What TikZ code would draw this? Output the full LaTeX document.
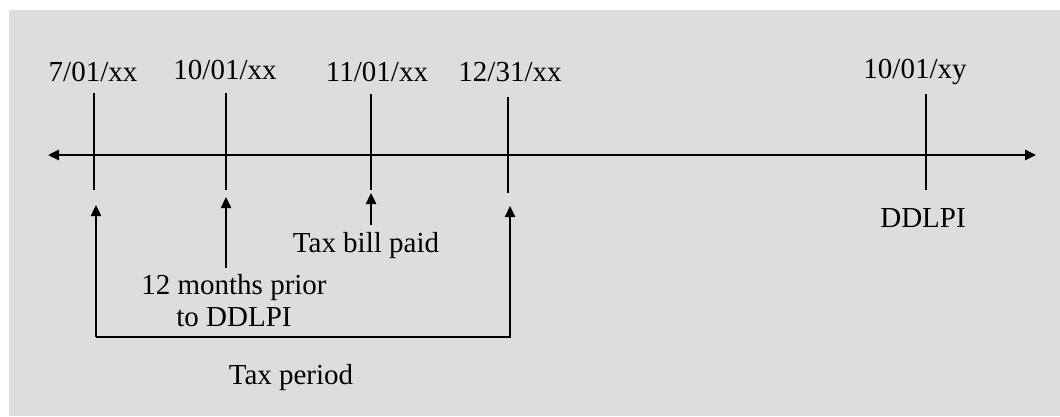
\documentclass[tikz,border=0pt]{standalone}
\usepackage{fontspec}
\setmainfont{Liberation Serif}
\usetikzlibrary{arrows.meta}
\definecolor{bg}{HTML}{DDDDDD}
\begin{document}
\begin{tikzpicture}[x=1pt,y=-1pt,
  lbl/.style={font=\fontsize{29}{32}\selectfont,inner sep=0pt,align=center},
  tick/.style={line width=2.4pt},
  axis/.style={line width=2.6pt,{Triangle[length=11pt,width=10pt]}-{Triangle[length=11pt,width=10pt]}},
  uparrow/.style={line width=2.4pt,-{Triangle[length=11pt,width=10pt]}}]
\useasboundingbox (0,0) rectangle (1060,416);
\fill[white] (0,0) rectangle (1060,416);
\fill[bg] (9,10) rectangle (1060,416);
% axis
\coordinate (L) at (48,155);
\coordinate (R) at (1036,155);
\draw[axis] (L) -- (R);
% ticks
\coordinate (t1a) at (94,93); \coordinate (t1b) at (94,190);
\coordinate (t2a) at (226,93); \coordinate (t2b) at (226,190);
\coordinate (t3a) at (371,94); \coordinate (t3b) at (371,190);
\coordinate (t4a) at (508,97); \coordinate (t4b) at (508,193);
\coordinate (t5a) at (926,94); \coordinate (t5b) at (926,190);
\draw[tick] (t1a) -- (t1b);
\draw[tick] (t2a) -- (t2b);
\draw[tick] (t3a) -- (t3b);
\draw[tick] (t4a) -- (t4b);
\draw[tick] (t5a) -- (t5b);
% date labels
\node[lbl] (d1) at (93,72) {7/01/xx};
\node[lbl] (d2) at (225,70) {10/01/xx};
\node[lbl] (d3) at (377,72) {11/01/xx};
\node[lbl] (d4) at (510,72) {12/31/xx};
\node[lbl] (d5) at (915,72) {10/01/xy};
\node[lbl] (ddlpi) at (923,218) {DDLPI};
% lower labels
\node[lbl] (paid) at (366,246) {Tax bill paid};
\node[lbl,align=center] (prior) at (234,301) {12 months prior\\to DDLPI};
\node[lbl] (period) at (291,378) {Tax period};
% arrows
\coordinate (p2) at (226,268);
\coordinate (a2) at (226,197);
\draw[uparrow] (p2) -- (a2);
\coordinate (p3) at (371,225);
\coordinate (a3) at (371,193);
\draw[uparrow] (p3) -- (a3);
\coordinate (b1) at (96,337);
\coordinate (b4) at (510,337);
\coordinate (a1) at (96,205);
\coordinate (a4) at (510,206);
\draw[uparrow] (b1) -- (b4) -- (a4);
\draw[uparrow] (b1) -- (a1);
\end{tikzpicture}
\end{document}
